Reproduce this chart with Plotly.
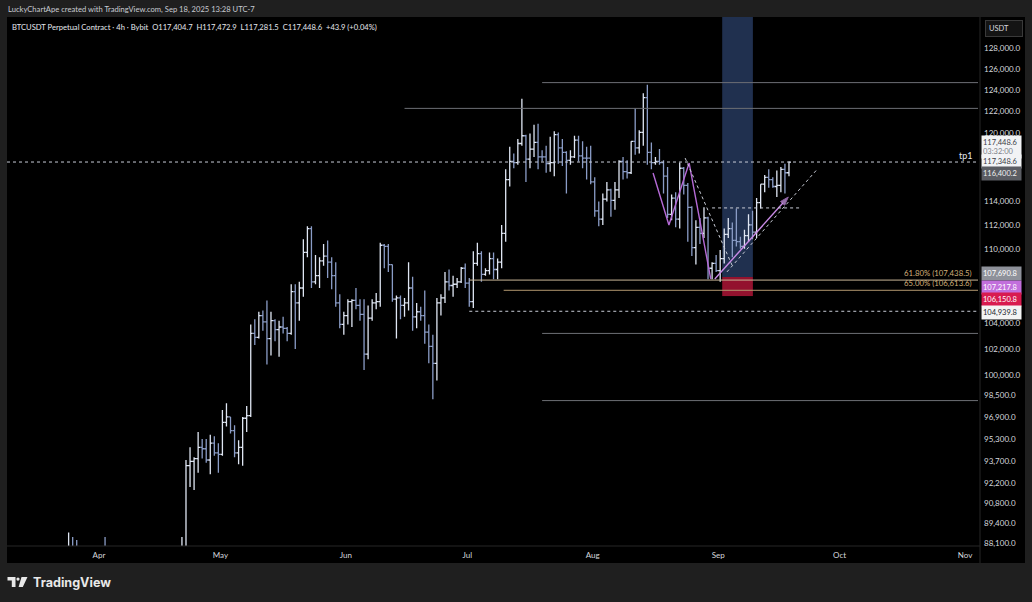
import math
import pandas as pd
import plotly.graph_objects as go

# ---------------------------------------------------------------------------
# BTCUSDT daily OHLC (thousands of USDT), 2025-03-20 .. 2025-09-18
# ---------------------------------------------------------------------------
days = pd.date_range("2025-03-20", "2025-09-18", freq="D") + pd.Timedelta(hours=12)

open_k = [
    # Mar 20-31
    86.9, 84.2, 84.0, 83.8, 86.1, 87.5, 87.4, 86.9, 87.2, 84.3, 82.6, 82.3,
    # Apr
    82.5, 85.1, 82.5, 83.1, 83.8, 83.5, 78.4, 79.1, 76.3, 82.6, 79.6, 83.4, 85.3, 83.7, 84.6,
    83.7, 84.0, 84.9, 84.5, 85.1, 85.2, 87.5, 93.4, 93.7, 93.9, 94.7, 94.6, 93.8, 95.0, 94.3,
    # May
    94.2, 96.5, 96.9, 95.9, 94.3, 94.7, 96.8, 97.0, 103.2, 102.9, 104.6, 104.1, 102.8, 104.2,
    103.5, 103.7, 103.6, 103.2, 106.5, 105.6, 106.8, 109.7, 111.7, 107.3, 107.8, 109.0, 109.4,
    108.9, 107.8, 105.6, 103.9,
    # Jun
    104.6, 105.7, 105.8, 105.4, 104.7, 101.6, 104.4, 105.6, 105.7, 110.3, 110.2, 108.7, 105.9,
    106.0, 105.4, 105.6, 106.8, 104.5, 104.9, 104.6, 103.3, 102.2, 100.9, 105.6, 106.0, 107.3,
    107.0, 107.1, 107.3, 108.4,
    # Jul
    107.2, 105.7, 108.8, 109.6, 107.9, 108.2, 109.2, 108.3, 108.9, 111.3, 115.9, 117.5, 117.4,
    119.1, 119.8, 117.7, 118.6, 119.2, 117.9, 117.9, 117.3, 117.4, 119.9, 118.7, 118.3, 117.6,
    117.9, 119.4, 118.0, 117.8, 117.8,
    # Aug
    115.7, 113.2, 112.5, 114.2, 115.0, 114.1, 115.0, 117.5, 116.6, 116.5, 119.3, 118.7, 120.1,
    123.3, 118.3, 117.4, 117.5, 117.4, 116.2, 112.9, 114.3, 112.5, 116.9, 115.4, 113.5, 110.1,
    111.8, 111.3, 112.6, 108.4, 108.8,
    # Sep 1-18
    108.2, 109.2, 111.2, 111.7, 110.7, 110.6, 110.2, 111.1, 112.0, 111.4, 113.9, 115.5, 116.1,
    115.9, 115.3, 115.4, 116.8, 116.5,
]
high_k = [
    87.4, 84.8, 84.5, 86.1, 88.8, 88.5, 88.3, 87.8, 87.5, 84.6, 83.5, 83.9,
    85.5, 88.5, 83.9, 84.7, 84.2, 83.8, 81.2, 80.8, 83.5, 82.7, 84.3, 85.9, 86.1, 85.8, 86.5,
    85.5, 85.5, 85.3, 85.6, 85.3, 88.5, 93.8, 94.7, 94.0, 95.8, 95.3, 95.3, 95.6, 95.5, 95.0,
    97.4, 97.9, 96.9, 96.3, 95.2, 96.9, 97.7, 103.9, 104.3, 104.9, 105.0, 105.8, 104.9, 104.3,
    104.2, 104.5, 103.7, 107.1, 107.1, 107.3, 110.8, 111.9, 111.9, 109.5, 109.3, 110.4, 110.7,
    109.3, 108.9, 106.3, 104.9,
    105.9, 105.9, 106.8, 105.9, 105.9, 105.4, 105.9, 106.4, 110.5, 110.4, 110.4, 108.7, 106.2,
    106.2, 106.0, 108.9, 107.7, 105.6, 105.3, 106.6, 103.9, 103.1, 106.0, 106.3, 108.1, 108.3,
    107.8, 107.6, 108.5, 108.8,
    107.6, 109.8, 110.5, 109.8, 108.4, 109.7, 109.7, 109.2, 112.0, 116.8, 118.8, 118.2, 119.5,
    123.2, 119.9, 120.0, 120.8, 120.9, 118.5, 118.9, 119.7, 120.2, 120.1, 119.5, 118.4, 118.5,
    119.8, 119.8, 119.3, 118.8, 118.9,
    116.1, 114.0, 114.7, 115.7, 115.1, 115.7, 117.6, 117.9, 117.6, 119.3, 122.3, 120.3, 123.7,
    124.5, 119.2, 117.9, 118.6, 117.6, 117.0, 114.6, 114.8, 117.4, 117.0, 115.6, 113.6, 112.4,
    112.6, 113.5, 112.7, 108.9, 109.5,
    109.9, 111.7, 112.6, 112.2, 113.4, 111.0, 111.6, 112.9, 113.2, 114.3, 115.5, 116.3, 116.8,
    116.1, 116.7, 117.0, 117.3, 117.5,
]
low_k = [
    83.7, 83.2, 83.7, 83.0, 85.5, 86.3, 85.9, 85.8, 83.6, 81.6, 81.6, 81.3,
    82.4, 82.3, 81.2, 81.6, 82.4, 77.1, 74.4, 76.2, 74.6, 78.4, 78.9, 82.0, 83.0, 83.6, 83.6,
    83.1, 83.9, 84.3, 84.3, 83.9, 85.1, 87.2, 91.9, 91.7, 92.9, 93.9, 93.6, 92.8, 94.1, 92.9,
    94.1, 96.2, 95.7, 94.0, 93.5, 93.4, 95.8, 96.9, 102.3, 102.8, 103.4, 100.8, 101.5, 102.6,
    101.4, 103.2, 102.6, 103.1, 102.0, 104.2, 106.1, 109.3, 106.8, 107.1, 106.8, 108.6, 107.6,
    106.7, 105.3, 103.6, 103.1,
    103.9, 103.7, 105.1, 104.2, 100.4, 101.2, 104.2, 105.1, 105.3, 108.4, 108.1, 105.7, 102.8,
    104.3, 104.5, 105.0, 103.4, 103.6, 104.2, 102.4, 100.9, 98.2, 99.6, 104.6, 105.6, 106.6,
    106.1, 106.8, 107.2, 106.8,
    105.3, 105.2, 108.6, 107.3, 107.8, 107.9, 107.5, 107.5, 108.4, 110.6, 115.3, 116.9, 117.2,
    118.9, 115.7, 116.9, 117.9, 116.8, 117.5, 116.5, 116.6, 116.2, 117.3, 117.1, 114.7, 117.2,
    117.8, 117.5, 116.9, 115.9, 115.5,
    112.7, 111.9, 112.0, 114.0, 112.7, 113.3, 114.3, 115.9, 116.0, 116.4, 118.1, 118.2, 118.9,
    117.2, 116.8, 117.2, 117.2, 114.7, 112.6, 112.4, 111.8, 111.7, 114.6, 110.6, 109.4, 108.7,
    110.4, 110.9, 107.5, 107.5, 108.1,
    107.3, 108.8, 110.9, 109.3, 110.2, 110.0, 110.0, 110.6, 110.8, 110.9, 113.4, 114.8, 115.2,
    115.2, 114.4, 114.8, 114.7, 116.2,
]
close_k = [
    84.2, 84.0, 83.8, 86.1, 87.5, 87.4, 86.9, 87.2, 84.3, 82.6, 82.3, 82.5,
    85.1, 82.5, 83.1, 83.8, 83.5, 78.4, 79.1, 76.3, 82.6, 79.6, 83.4, 85.3, 83.7, 84.6, 83.7,
    84.0, 84.9, 84.5, 85.1, 85.2, 87.5, 93.4, 93.7, 93.9, 94.7, 94.6, 93.8, 95.0, 94.3, 94.2,
    96.5, 96.9, 95.9, 94.3, 94.7, 96.8, 97.0, 103.2, 102.9, 104.6, 104.1, 102.8, 104.2, 103.5,
    103.7, 103.6, 103.2, 106.5, 105.6, 106.8, 109.7, 111.7, 107.3, 107.8, 109.0, 109.4, 108.9,
    107.8, 105.6, 103.9, 104.6,
    105.7, 105.8, 105.4, 104.7, 101.6, 104.4, 105.6, 105.7, 110.3, 110.2, 108.7, 105.9, 106.0,
    105.4, 105.6, 106.8, 104.5, 104.9, 104.6, 103.3, 102.2, 100.9, 105.6, 106.0, 107.3, 107.0,
    107.1, 107.3, 108.4, 107.2,
    105.7, 108.8, 109.6, 107.9, 108.2, 109.2, 108.3, 108.9, 111.3, 115.9, 117.5, 117.4, 119.1,
    119.8, 117.7, 118.6, 119.2, 117.9, 117.9, 117.3, 117.4, 119.9, 118.7, 118.3, 117.6, 117.9,
    119.4, 118.0, 117.8, 117.8, 115.7,
    113.2, 112.5, 114.2, 115.0, 114.1, 115.0, 117.5, 116.6, 116.5, 119.3, 118.7, 120.1, 123.3,
    118.3, 117.4, 117.5, 117.4, 116.2, 112.9, 114.3, 112.5, 116.9, 115.4, 113.5, 110.1, 111.8,
    111.3, 112.6, 108.4, 108.8, 108.2,
    109.2, 111.2, 111.7, 110.7, 110.6, 110.2, 111.1, 112.0, 111.4, 113.9, 115.5, 116.1, 115.9,
    115.3, 115.4, 116.8, 116.5, 117.448,
]

# price-scale ticks and month ticks
price_ticks = [128000, 126000, 124000, 122000, 120000, 114000, 112000, 110000, 104000,
               102000, 100000, 98500, 96900, 95300, 93700, 92200, 90800, 89400, 88100]
month_ticks = ["2025-04-01", "2025-05-01", "2025-06-01", "2025-07-01",
               "2025-08-01", "2025-09-01", "2025-10-01", "2025-11-01"]
month_labels = ["Apr", "May", "Jun", "Jul", "Aug", "Sep", "Oct", "Nov"]

# drawing levels
last_price = 117448.6
fib_618 = 107438.5
fib_650 = 106613.6
entry_price = 107690.8
stop_price = 106150.8
target_price = 135000.0
support_dash = 104939.8
upper_level_a = 124700.0
upper_level_b = 122300.0
lower_level_a = 103200.0
lower_level_b = 98100.0

# purple swing path and arrow
swing_t = ["2025-08-15 22:00", "2025-08-19 20:00", "2025-08-24 20:00", "2025-08-30 04:00"]
swing_p = [116480, 112000, 117360, 107530]
arrow_t = ["2025-08-31 04:00", "2025-09-18 08:00"]
arrow_p = [107530, 114390]

# dashed guide lines
guide_a_t = ["2025-08-23 20:00", "2025-09-04 12:00"]
guide_a_p = [117800, 108600]
guide_b_t = ["2025-08-30 12:00", "2025-09-21 12:00"]
guide_b_p = [113450, 113450]
guide_c_t = ["2025-09-03 04:00", "2025-09-25 08:00"]
guide_c_p = [108100, 116750]

W, H = 1032, 602
L, R, T, B = 7, 978, 17, 546          # plot area in pixels
PW, PH = R - L, B - T


def px(x):
    return (x - L) / PW


def py(y):
    return (B - y) / PH


x_range = ["2025-03-09 06:30", "2025-11-04 05:00"]
y_range = [math.log10(87906), math.log10(131030)]

fig = go.Figure()

fig.add_trace(go.Ohlc(
    x=days,
    open=[v * 1000 for v in open_k],
    high=[v * 1000 for v in high_k],
    low=[v * 1000 for v in low_k],
    close=[v * 1000 for v in close_k],
    increasing=dict(line=dict(color="#dfe6f3", width=1.3)),
    decreasing=dict(line=dict(color="#8a9cc6", width=1.3)),
    tickwidth=0.5,
    hoverinfo="skip",
    showlegend=False,
))

purple = "#b56ad6"
fig.add_trace(go.Scatter(x=swing_t, y=swing_p, mode="lines",
                         line=dict(color=purple, width=1.4),
                         hoverinfo="skip", showlegend=False))
fig.add_trace(go.Scatter(x=arrow_t, y=arrow_p, mode="lines+markers",
                         line=dict(color="#c98be6", width=1.4),
                         marker=dict(symbol="arrow", size=[0, 9], angleref="previous",
                                     color="#d6a0f0"),
                         hoverinfo="skip", showlegend=False))
for gt, gp in ((guide_a_t, guide_a_p), (guide_b_t, guide_b_p), (guide_c_t, guide_c_p)):
    fig.add_trace(go.Scatter(x=gt, y=gp, mode="lines",
                             line=dict(color="#c8ccd6", width=1, dash="dot"),
                             hoverinfo="skip", showlegend=False))

shapes = []
# black chart panel incl. the price and time scales
shapes.append(dict(type="rect", xref="paper", yref="paper", x0=0, x1=px(1025),
                   y0=py(563), y1=1, fillcolor="#000000", line_width=0, layer="below"))
# scale separators
shapes.append(dict(type="line", xref="paper", yref="paper", x0=px(980), x1=px(980),
                   y0=py(563), y1=1, line=dict(color="#262626", width=1)))
shapes.append(dict(type="line", xref="paper", yref="paper", x0=0, x1=px(980),
                   y0=0, y1=0, line=dict(color="#262626", width=1)))

# position tool: target (blue) and stop (red)
shapes.append(dict(type="rect", xref="x", yref="y", x0="2025-09-02 00:00", x1="2025-09-09 14:00",
                   y0=entry_price, y1=target_price, fillcolor="rgba(44,66,110,0.72)",
                   line_width=0, layer="below"))
shapes.append(dict(type="rect", xref="x", yref="y", x0="2025-09-02 00:00", x1="2025-09-09 14:00",
                   y0=stop_price, y1=entry_price, fillcolor="rgba(196,24,62,0.75)",
                   line_width=0, layer="below"))


# horizontal levels
def hline(t0, price, color, dash="solid", width=1):
    shapes.append(dict(type="line", xref="x", yref="y", x0=t0, x1=x_range[1],
                       y0=price, y1=price, line=dict(color=color, width=width, dash=dash)))


hline("2025-07-19 12:00", upper_level_a, "#6d6f75")
hline("2025-06-15 12:00", upper_level_b, "#6d6f75")
hline("2025-07-19 12:00", lower_level_a, "#6d6f75")
hline("2025-07-19 12:00", lower_level_b, "#6d6f75")
hline("2025-07-01 12:00", fib_618, "#c9b596")
hline("2025-07-10 00:00", fib_650, "#b39870")
hline("2025-07-01 12:00", support_dash, "#c8ccd6", dash="dot")
hline(x_range[0], last_price, "#c8ccd6", dash="dot")

# TradingView logo mark
shapes.append(dict(type="path", xref="paper", yref="paper",
                   path=f"M {px(7.5)},{py(577)} L {px(15.5)},{py(577)} L {px(15.5)},{py(587)} "
                        f"L {px(11.8)},{py(587)} L {px(11.8)},{py(580.6)} L {px(7.5)},{py(580.6)} Z",
                   fillcolor="#e8e8e8", line_width=0))
shapes.append(dict(type="circle", xref="paper", yref="paper",
                   x0=px(16.4), x1=px(19.6), y0=py(580.8), y1=py(577.4),
                   fillcolor="#e8e8e8", line_width=0))
shapes.append(dict(type="path", xref="paper", yref="paper",
                   path=f"M {px(21.5)},{py(577)} L {px(27.5)},{py(577)} L {px(22.8)},{py(587)} "
                        f"L {px(18.6)},{py(587)} Z",
                   fillcolor="#e8e8e8", line_width=0))

ann = []
FONT = "Lato"
ann.append(dict(xref="paper", yref="paper", x=px(6), y=py(9), xanchor="left", yanchor="middle",
                text="LuckyChartApe created with TradingView.com, Sep 18, 2025 13:28 UTC-7",
                showarrow=False, font=dict(family=FONT, size=7.6, color="#c9ccd3")))
ann.append(dict(xref="paper", yref="paper", x=px(10), y=py(27), xanchor="left", yanchor="middle",
                text="BTCUSDT Perpetual Contract · 4h · Bybit  O117,404.7  H117,472.9  "
                     "L117,281.5  C117,448.6  +43.9 (+0.04%)",
                showarrow=False, font=dict(family=FONT, size=7.6, color="#e6e8ee")))
ann.append(dict(xref="paper", yref="paper", x=px(31), y=py(582), xanchor="left", yanchor="middle",
                text="<b>TradingView</b>", showarrow=False,
                font=dict(family="Inter", size=12.6, color="#e8e8e8")))
# USDT currency box
ann.append(dict(xref="paper", yref="paper", x=px(985), y=py(28.5), xanchor="left", yanchor="middle",
                text="USDT  ", showarrow=False, bgcolor="#141414", bordercolor="#3a3a3a",
                borderwidth=1, borderpad=3, width=30, align="left",
                font=dict(family=FONT, size=7.5, color="#d6d8de")))
# tp1 label
ann.append(dict(xref="paper", yref="paper", x=px(975), y=py(156),
                xanchor="right", yanchor="middle", text="tp1", showarrow=False,
                font=dict(family=FONT, size=9, color="#e6e8ee")))
# fib labels
ann.append(dict(xref="paper", yref="y", x=px(974), y=math.log10(fib_618),
                xanchor="right", yanchor="bottom", text="61.80% (107,438.5)", showarrow=False,
                font=dict(family=FONT, size=7.8, color="#d2b07a")))
ann.append(dict(xref="paper", yref="y", x=px(974), y=math.log10(fib_650),
                xanchor="right", yanchor="bottom", text="65.00% (106,613.6)", showarrow=False,
                font=dict(family=FONT, size=7.8, color="#d2b07a")))


def badge(y_px, text, bg, fg, h=11):
    ann.append(dict(xref="paper", yref="paper", x=px(980.5), y=py(y_px), xanchor="left",
                    yanchor="middle", text=text, showarrow=False, bgcolor=bg, width=37,
                    height=h, align="left", borderpad=1,
                    font=dict(family=FONT, size=7.5, color=fg)))


badge(147, "117,448.6<br><span style='color:#7c8088'>03:32:00</span>", "#f2f3f5", "#3a3d45", h=20)
badge(162, "117,348.6", "#f2f3f5", "#3a3d45")
badge(174, "116,400.2", "#5b5d63", "#f0f0f0")
badge(273, "107,690.8", "#8e919a", "#ffffff")
badge(287, "107,217.8", "#c26fdc", "#ffffff")
badge(299, "106,150.8", "#d81b4f", "#ffffff")
badge(312, "104,939.8", "#f4f4f4", "#22252c")

fig.update_layout(
    width=W, height=H,
    margin=dict(l=L, r=W - R, t=T, b=H - B),
    paper_bgcolor="#1f1f1f", plot_bgcolor="#000000",
    shapes=shapes, annotations=ann, showlegend=False,
    xaxis=dict(type="date", range=x_range, tickvals=month_ticks, ticktext=month_labels,
               showgrid=False, zeroline=False, showline=False, ticks="",
               ticklabelstandoff=3,
               tickfont=dict(family=FONT, size=8, color="#d6d8de"),
               rangeslider=dict(visible=False), fixedrange=True),
    yaxis=dict(type="log", side="right", range=y_range, tickvals=price_ticks,
               ticktext=[f"{v:,.1f}" for v in price_ticks],
               showgrid=False, zeroline=False, showline=False, ticks="",
               ticklabelstandoff=5,
               tickfont=dict(family=FONT, size=8, color="#d6d8de"), fixedrange=True),
)

fig.write_html("out.html")
